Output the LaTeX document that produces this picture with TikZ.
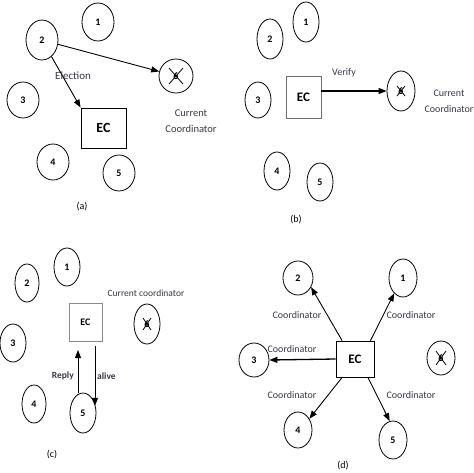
\documentclass[tikz,border=0pt]{standalone}
\usepackage{fontspec}
\setmainfont{Carlito}
\usepackage{xcolor}
\definecolor{lbl_grey}{RGB}{55, 55, 70}
\definecolor{box_grey}{RGB}{110, 110, 110}
\usetikzlibrary{arrows.meta, shapes.geometric}

\begin{document}
\begin{tikzpicture}[x=1pt, y=-1pt,
    proc/.style={draw, ellipse, line width=0.8pt, inner sep=0pt, minimum width=28pt,
                 minimum height=38pt, font=\fontsize{10}{11}\selectfont\bfseries},
    ecbox/.style={draw, line width=0.8pt, inner sep=0pt, font=\fontsize{13}{14}\selectfont\bfseries},
    msg/.style={-{Triangle[length=8pt, width=6pt]}, line width=0.9pt},
    lbl/.style={text=lbl_grey, inner sep=0pt, font=\fontsize{10}{16}\selectfont},
    subcap/.style={inner sep=0pt, font=\fontsize{10}{11}\selectfont}]
  \useasboundingbox (0,0) rectangle (474,472);

  % (a) election message
  \node[proc, minimum width=32pt, minimum height=38pt] (a1) at (98,22) {1};
  \node[proc, minimum width=32pt, minimum height=40pt] (a2) at (42,40) {2};
  \node[proc, minimum width=32pt, minimum height=36pt] (a3) at (23,100) {3};
  \node[proc, minimum width=32pt, minimum height=36pt] (a4) at (53,162) {4};
  \node[proc, minimum width=32pt, minimum height=36pt] (a5) at (119,173) {5};
  \node[proc, minimum width=34pt, minimum height=34pt] (a6) at (176,76) {6};
  \draw[line width=0.8pt] ([shift={(-7,-8)}]a6.center) -- ([shift={(7,8)}]a6.center)
        ([shift={(7,-8)}]a6.center) -- ([shift={(-7,8)}]a6.center);
  \node[ecbox, minimum width=45pt, minimum height=40pt, font=\fontsize{14}{15}\selectfont\bfseries]
        (aec) at (103.5,128) {EC};
  \draw[msg] (a2) -- (a6);
  \draw[msg] (a2) -- (aec.north west);
  \node[lbl, anchor=west, font=\fontsize{11}{12}\selectfont] (aelect) at (55,76) {Election};
  \node[lbl, align=center, font=\fontsize{10.5}{16}\selectfont] (acur) at (191,121) {Current\\Coordinator};
  \node[subcap] (acap) at (82,207) {(a)};

  % (b) verify the coordinator
  \node[proc, minimum width=26pt, minimum height=40pt] (b1) at (306,22) {1};
  \node[proc, minimum width=26pt, minimum height=40pt] (b2) at (270,39) {2};
  \node[proc, minimum width=26pt, minimum height=36pt] (b3) at (258,100) {3};
  \node[proc, minimum width=26pt, minimum height=38pt] (b4) at (277,171) {4};
  \node[proc, minimum width=26pt, minimum height=38pt] (b5) at (320,182) {5};
  \node[proc, minimum width=28pt, minimum height=40pt] (b6) at (401,91) {6};
  \draw[line width=0.8pt] ([shift={(-4,-5)}]b6.center) -- ([shift={(4,5)}]b6.center)
        ([shift={(4,-5)}]b6.center) -- ([shift={(-4,5)}]b6.center);
  \node[ecbox, draw=box_grey, minimum width=35pt, minimum height=42pt] (bec) at (303.5,97) {EC};
  \draw[msg, line width=1.3pt] (bec.east |- b6) -- (b6);
  \node[lbl] (bverify) at (344,73) {Verify};
  \node[lbl, align=center] (bcur) at (449,101) {Current\\Coordinator};
  \node[subcap] (bcap) at (296,220) {(b)};

  % (c) alive / reply
  \node[proc, minimum width=26pt, minimum height=38pt] (c1) at (67,267) {1};
  \node[proc, minimum width=24pt, minimum height=38pt] (c2) at (27,283) {2};
  \node[proc, minimum width=26pt, minimum height=38pt] (c3) at (13,343) {3};
  \node[proc, minimum width=24pt, minimum height=38pt] (c4) at (34,404) {4};
  \node[proc, minimum width=26pt, minimum height=40pt] (c5) at (83,413) {5};
  \node[proc, minimum width=26pt, minimum height=40pt] (c6) at (147,324) {6};
  \draw[line width=0.8pt] ([shift={(-4,-6)}]c6.center) -- ([shift={(4,6)}]c6.center)
        ([shift={(4,-6)}]c6.center) -- ([shift={(-4,6)}]c6.center);
  \node[ecbox, draw=box_grey!80, minimum width=33pt, minimum height=38pt,
        font=\fontsize{10}{11}\selectfont\bfseries] (cec) at (85.5,322) {EC};
  \coordinate (creply) at (78,350);
  \coordinate (calive) at (95,346);
  \draw[msg] (creply |- c5.north) -- (creply);
  \draw[msg] (calive) -- (calive |- c5.30);
  \node[lbl, anchor=east, font=\fontsize{9.5}{10}\selectfont\bfseries] (creplyl) at (74,376) {Reply};
  \node[lbl, anchor=west, font=\fontsize{9.5}{10}\selectfont\bfseries] (calivel) at (97,376) {alive};
  \node[lbl, font=\fontsize{9.5}{10}\selectfont] (ccur) at (146,293) {Current coordinator};
  \node[subcap] (ccap) at (52,455) {(c)};

  % (d) new coordinator broadcast
  \node[proc, minimum width=30pt, minimum height=34pt] (d2) at (298,278) {2};
  \node[proc, minimum width=28pt, minimum height=38pt] (d1) at (403,278) {1};
  \node[proc, minimum width=30pt, minimum height=34pt] (d3) at (254,360) {3};
  \node[proc, minimum width=28pt, minimum height=36pt] (d4) at (298,430) {4};
  \node[proc, minimum width=28pt, minimum height=38pt] (d5) at (393,440) {5};
  \node[proc, minimum width=28pt, minimum height=34pt] (d6) at (441,358) {6};
  \draw[line width=0.8pt] ([shift={(-5,-7)}]d6.center) -- ([shift={(5,7)}]d6.center)
        ([shift={(5,-7)}]d6.center) -- ([shift={(-5,7)}]d6.center);
  \node[ecbox, minimum width=38pt, minimum height=36pt] (dec) at (355,359) {EC};
  \draw[msg] (dec.125) -- (d2.325);
  \draw[msg] (dec.50) -- (d1.240);
  \draw[msg, line width=1.3pt] (dec.west) -- (d3.east);
  \draw[msg] (dec.235) -- (d4.45);
  \draw[msg] (dec.305) -- (d5.100);
  \node[lbl] (dl2) at (297,315) {Coordinator};
  \node[lbl] (dl1) at (411,315) {Coordinator};
  \node[lbl] (dl3) at (292,349) {Coordinator};
  \node[lbl] (dl4) at (292,395) {Coordinator};
  \node[lbl] (dl5) at (411,395) {Coordinator};
  \node[subcap] (dcap) at (343,466) {(d)};
\end{tikzpicture}
\end{document}
